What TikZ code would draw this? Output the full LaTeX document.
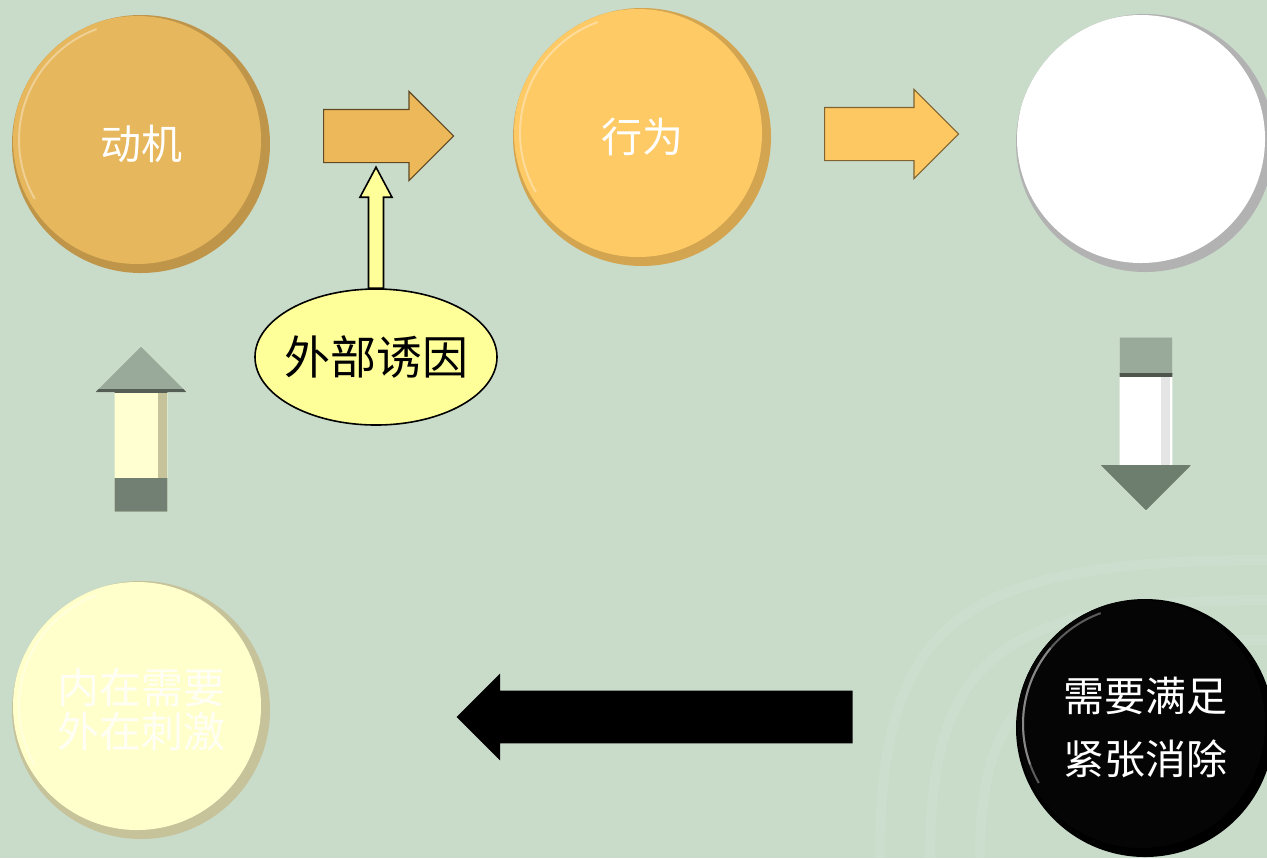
\documentclass[tikz,border=0pt]{standalone}
\usepackage{fontspec}
\newfontfamily\cjk{Noto Sans CJK SC}
\usetikzlibrary{shapes.geometric,shapes.arrows,calc}
\definecolor{bgc}{HTML}{C9DCCA}
\definecolor{motface}{HTML}{E6B75C}
\definecolor{motedge}{HTML}{BF954A}
\definecolor{behface}{HTML}{FDCA66}
\definecolor{behedge}{HTML}{D4A550}
\definecolor{whtedge}{HTML}{B2B2B2}
\definecolor{palface}{HTML}{FFFFCC}
\definecolor{paledge}{HTML}{C6C29A}
\definecolor{extfill}{HTML}{FFFF99}
\definecolor{arrA}{HTML}{EDB859}
\definecolor{arrB}{HTML}{FDC862}
\definecolor{grayhead}{HTML}{9AAA9A}
\definecolor{darkhead}{HTML}{6E7E6E}
\definecolor{midgray}{HTML}{727F73}
\definecolor{paleshaft}{HTML}{FFFFD2}
\tikzset{
  coin/.style n args={2}{circle, inner sep=0pt, minimum size=129pt, fill=#2,
    text=white, align=center,
    path picture={
      \fill[#1] ([shift={(-2pt,2pt)}]path picture bounding box.center) circle (62pt);
      \draw[white, opacity=.35, line width=1pt]
        ([shift={(-2pt,2pt)}]path picture bounding box.center) ++(110:59pt) arc (110:210:59pt);
    }},
  blockarrow/.style={single arrow, inner xsep=0pt, inner ysep=13pt,
    single arrow head extend=9pt, single arrow tip angle=90, anchor=tail},
  vblockarrow/.style={blockarrow, inner xsep=13pt, inner ysep=0pt},
  yarr/.style={fill=extfill, draw=black, line width=0.8pt, line join=miter}
}
\begin{document}
\begin{tikzpicture}[x=0.5pt,y=-0.5pt]
\fill[bgc] (0,0) rectangle (1267,858);
\useasboundingbox (0,0) rectangle (1267,858);

% faint background swirls
\begin{scope}[draw=white, opacity=.06, line width=5pt]
  \draw (930,858) .. controls (930,660) and (1000,600) .. (1267,600);
  \draw (980,858) .. controls (980,700) and (1040,640) .. (1267,640);
  \draw (880,858) .. controls (880,620) and (960,560) .. (1267,560);
\end{scope}

% circles
\node[coin={motface}{motedge}, font=\cjk\fontsize{20.5pt}{24pt}\selectfont] (motive) at (141,144) {动机};
\node[coin={behface}{behedge}, font=\cjk\fontsize{20.5pt}{24pt}\selectfont] (behav) at (642,137) {行为};
\node[coin={white}{whtedge}] (goal) at (1145,143) {};
\node[coin={palface}{paledge}, text=white!96!yellow, font=\cjk\fontsize{21pt}{22pt}\selectfont] (need) at (141,710) {内在需要\\外在刺激};
\node[coin={black!98}{black}, font=\cjk\fontsize{20.5pt}{31.5pt}\selectfont] (sat) at (1145,728) {需要满足\\紧张消除};
\draw[gray!70, opacity=.6, line width=1pt] ([shift={(-2pt,2pt)}]sat.center) ++(140:59pt) arc (140:200:59pt);

% block arrows
\node[blockarrow, fill=arrA, draw=black!60!arrA, line width=0.6pt, minimum height=65pt] (a1) at (323,136) {};
\node[blockarrow, fill=arrB, draw=black!50!arrB, line width=0.6pt, minimum height=67pt] (a2) at (824,134) {};
\node[vblockarrow, shape border rotate=90, minimum height=82.5pt, single arrow head extend=9.5pt,
  fill=paleshaft,
  path picture={
    \fill[grayhead] (path picture bounding box.north west) rectangle ([yshift=-21.5pt]path picture bounding box.north east);
    \fill[black!45!grayhead] ([yshift=-21pt]path picture bounding box.north west) rectangle ([yshift=-23pt]path picture bounding box.north east);
    \fill[midgray] (path picture bounding box.south west) rectangle ([yshift=17pt]path picture bounding box.south east);
    \fill[paledge] ([xshift=-9.5pt,yshift=17pt]path picture bounding box.south east) rectangle ([xshift=-14pt,yshift=-23pt]path picture bounding box.north east);
  }] (aup) at (141,512) {};
\node[vblockarrow, shape border rotate=270, minimum height=86.5pt, single arrow head extend=9.5pt,
  fill=white,
  path picture={
    \fill[grayhead] (path picture bounding box.north west) rectangle ([yshift=-19pt]path picture bounding box.north east);
    \fill[black!50!grayhead] ([yshift=-18pt]path picture bounding box.north west) rectangle ([yshift=-20pt]path picture bounding box.north east);
    \fill[darkhead] (path picture bounding box.south west) rectangle ([yshift=22.5pt]path picture bounding box.south east);
    \fill[white!80!gray] ([xshift=-10.5pt,yshift=22.5pt]path picture bounding box.south east) rectangle ([xshift=-15pt,yshift=-20pt]path picture bounding box.north east);
  }] (adown) at (1146,337) {};
\node[blockarrow, shape border rotate=180, minimum height=198pt, single arrow head extend=8.5pt,
  fill=black] (aleft) at (853,717) {};

% external cause
\node[ellipse, fill=extfill, draw=black, line width=0.8pt, minimum width=121pt, minimum height=68pt,
  inner xsep=-3.5pt, inner ysep=0pt, font=\cjk\fontsize{23pt}{26pt}\selectfont] (ext) at (376,357) {外部诱因};
\draw[yarr] let \p1=(ext.north), \p2=(a1.270) in
  (\x1-3.75pt,\y1) -- (\x1-3.75pt,\y2-17pt) -- (\x1-8pt,\y2-17pt) -- (\x1,\y2-2pt)
  -- (\x1+8pt,\y2-17pt) -- (\x1+3.75pt,\y2-17pt) -- (\x1+3.75pt,\y1) -- cycle;
\end{tikzpicture}
\end{document}
